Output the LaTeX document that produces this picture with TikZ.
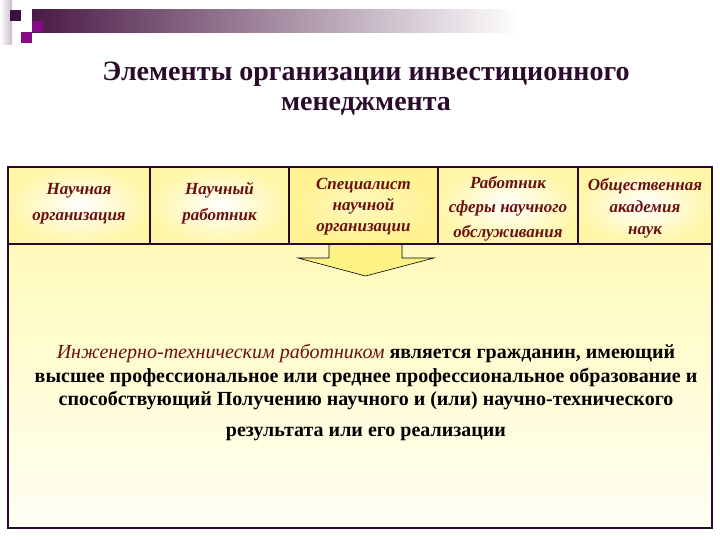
\documentclass[tikz,border=0pt]{standalone}
\usepackage{fontspec}
\setmainfont{Liberation Serif}
\definecolor{hdark}{HTML}{4A1A45}
\definecolor{sqdark}{HTML}{3A1240}
\definecolor{sqmag}{HTML}{850A85}
\definecolor{titlecol}{HTML}{2B0B2B}
\definecolor{bordercol}{HTML}{2A0A2A}
\definecolor{celltext}{HTML}{6B0F0F}
\definecolor{cellyellow}{HTML}{FFF6A8}
\definecolor{cellstrong}{HTML}{FFF291}
\definecolor{bodytop}{HTML}{FFFABA}
\definecolor{bodybot}{HTML}{FFFFF4}
\definecolor{arrowfill}{HTML}{FFF285}
\begin{document}
\begin{tikzpicture}[x=1pt,y=-1pt,
  cell/.style={draw=bordercol, line width=2.4pt, minimum width=#1, minimum height=77pt,
    inner sep=0pt, inner color=white, outer color=cellyellow},
  celltxt/.style={align=center, text=celltext, inner sep=0pt,
    font=\fontsize{17}{#1}\selectfont\bfseries\itshape},
  bodyline/.style={font=\fontsize{20}{23}\selectfont\bfseries, text=black, inner sep=0pt}]
\useasboundingbox (0,0) rectangle (720,540);
% header decoration
\shade[left color=white, right color=white!70!hdark] (0,0) rectangle (12,45);
\shade[left color=hdark, right color=white] (32,10) rectangle (520,33);
\fill[sqdark] (10,10) rectangle (21,21);
\fill[sqmag] (32,21) rectangle (43,32);
\fill[sqmag] (21,32) rectangle (32,43);
% title
\node[font=\fontsize{28}{30}\selectfont\bfseries, text=titlecol, align=center] (title) at (366,89)
  {Элементы организации инвестиционного\\менеджмента};
% body box
\node[draw=bordercol, line width=2.4pt, minimum width=704pt, minimum height=284pt,
  top color=bodytop, bottom color=bodybot, inner sep=0pt] (body) at (360,386) {};
% arrow
\draw[fill=arrowfill, draw=black, line width=0.6pt]
  (329,244) -- (402,244) -- (402,258) -- (434,258) -- (365.5,276) -- (298,258) -- (329,258) -- cycle;
% cells
\node[cell=142pt] (c1) at (79,205.5) {};
\node[cell=139pt] (c2) at (219.5,205.5) {};
\node[cell=149pt, inner color=cellstrong!60!white, outer color=cellstrong] (c3) at (363.5,205.5) {};
\node[cell=140pt] (c4) at (508,205.5) {};
\node[cell=134pt] (c5) at (645,205.5) {};
\node[celltxt=26] (t1) at (79,203.5) {Научная\\организация};
\node[celltxt=26] (t2) at (219.5,203.5) {Научный\\работник};
\node[celltxt=21] (t3) at (363.5,207) {Специалист\\научной\\организации};
\node[celltxt=24.5] (t4) at (508,208.5) {Работник\\сферы научного\\обслуживания};
\node[celltxt=22] (t5) at (645,208) {Общественная\\академия\\наук};
% body text
\node[bodyline] (l1) at (366,353) {\textcolor{celltext}{\mdseries\itshape Инженерно-техническим работником} является гражданин, имеющий};
\node[bodyline] (l2) at (366,377) {высшее профессиональное или среднее профессиональное образование и};
\node[bodyline] (l3) at (366,400) {способствующий Получению научного и (или) научно-технического};
\node[bodyline] (l4) at (366,434) {результата или его реализации};
\end{tikzpicture}
\end{document}
